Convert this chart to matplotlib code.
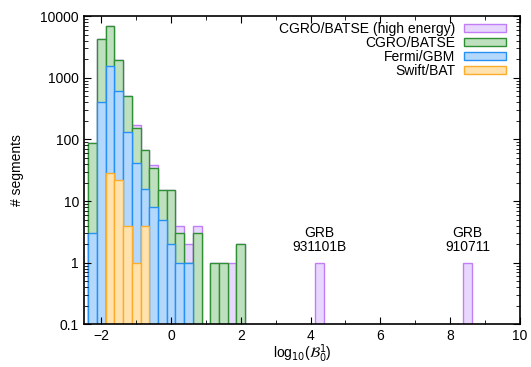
import matplotlib
matplotlib.use('Agg')
import matplotlib.pyplot as plt
from matplotlib.ticker import MultipleLocator, LogLocator, NullFormatter, FixedLocator

plt.rcParams['font.family'] = ['Liberation Sans', 'DejaVu Sans']
plt.rcParams['font.size'] = 10
plt.rcParams['mathtext.fontset'] = 'dejavusans'

# histogram bins (centres), width 0.25 in log10(B)
bin_width = 0.25

# CGRO/BATSE (high energy)
he_x = [-2.25, -2.0, -1.75, -1.5, -1.25, -1.0, -0.75, -0.5, -0.25, 0.0, 0.25, 0.5, 0.75, 1.25, 1.5, 1.75, 2.0, 4.25, 8.5]
he_y = [86, 4270, 7000, 1940, 500, 170, 67, 39, 15, 15, 4, 2, 4, 1, 1, 1, 2, 1, 1]

# CGRO/BATSE
batse_x = [-2.25, -2.0, -1.75, -1.5, -1.25, -1.0, -0.75, -0.5, -0.25, 0.0, 0.25, 0.5, 0.75, 1.25, 1.5, 2.0]
batse_y = [86, 4270, 7000, 1940, 500, 152, 67, 34, 15, 15, 3, 1, 3, 1, 1, 2]

# Fermi/GBM
gbm_x = [-2.25, -2.0, -1.75, -1.5, -1.25, -1.0, -0.75, -0.5, -0.25, 0.0, 0.25, 0.5]
gbm_y = [3, 404, 1570, 600, 134, 41, 16, 8, 5, 2, 1, 1]

# Swift/BAT
bat_x = [-1.75, -1.5, -1.25, -1.0, -0.75]
bat_y = [29, 22, 4, 1, 4]

fig = plt.figure(figsize=(5.31, 3.67), dpi=100)
ax = fig.add_axes([0.158, 0.116, 0.821, 0.840])

ax.bar(he_x, he_y, width=bin_width, color='#e8d8fd', edgecolor='#c17ef6', lw=1,
       label='CGRO/BATSE (high energy)')
ax.bar(batse_x, batse_y, width=bin_width, color='#bfe0bf', edgecolor='#2f8f33', lw=1,
       label='CGRO/BATSE')
ax.bar(gbm_x, gbm_y, width=bin_width, color='#b3d8fc', edgecolor='#2690f5', lw=1,
       label='Fermi/GBM')
ax.bar(bat_x, bat_y, width=bin_width, color='#ffe2ad', edgecolor='#fdad2c', lw=1,
       label='Swift/BAT')

ax.set_yscale('log')
ax.set_xlim(-2.5, 10)
ax.set_ylim(0.1, 10000)

ax.xaxis.set_major_locator(MultipleLocator(2))
ax.xaxis.set_minor_locator(MultipleLocator(1))
ax.yaxis.set_major_locator(FixedLocator([0.1, 1, 10, 100, 1000, 10000]))
ax.yaxis.set_minor_locator(LogLocator(base=10, subs=range(2, 10), numticks=20))
ax.yaxis.set_minor_formatter(NullFormatter())
ax.set_yticklabels(['0.1', '1', '10', '100', '1000', '10000'])
ax.tick_params(which='both', direction='in', top=True, right=True)
ax.tick_params(which='major', length=5)
ax.tick_params(which='minor', length=3)
ax.tick_params(axis='x', pad=3)
for s in ax.spines.values():
    s.set_linewidth(1.2)

# the two isolated bursts
ax.text(4.25, 1.38, 'GRB\n931101B', ha='center', va='bottom', linespacing=1.05)
ax.text(8.5, 1.38, 'GRB\n910711', ha='center', va='bottom', linespacing=1.05)

ax.set_xlabel(r'log$_{10}$($\mathcal{B}_0^1$)', labelpad=0)
ax.set_ylabel('# segments', labelpad=12)

ax.legend(loc='upper right', markerfirst=False, frameon=False, handlelength=3.0,
          handleheight=0.55, labelspacing=0.0, borderaxespad=0.0, handletextpad=0.6,
          bbox_to_anchor=(0.98, 1.0))

fig.savefig('out.png', dpi=100)
